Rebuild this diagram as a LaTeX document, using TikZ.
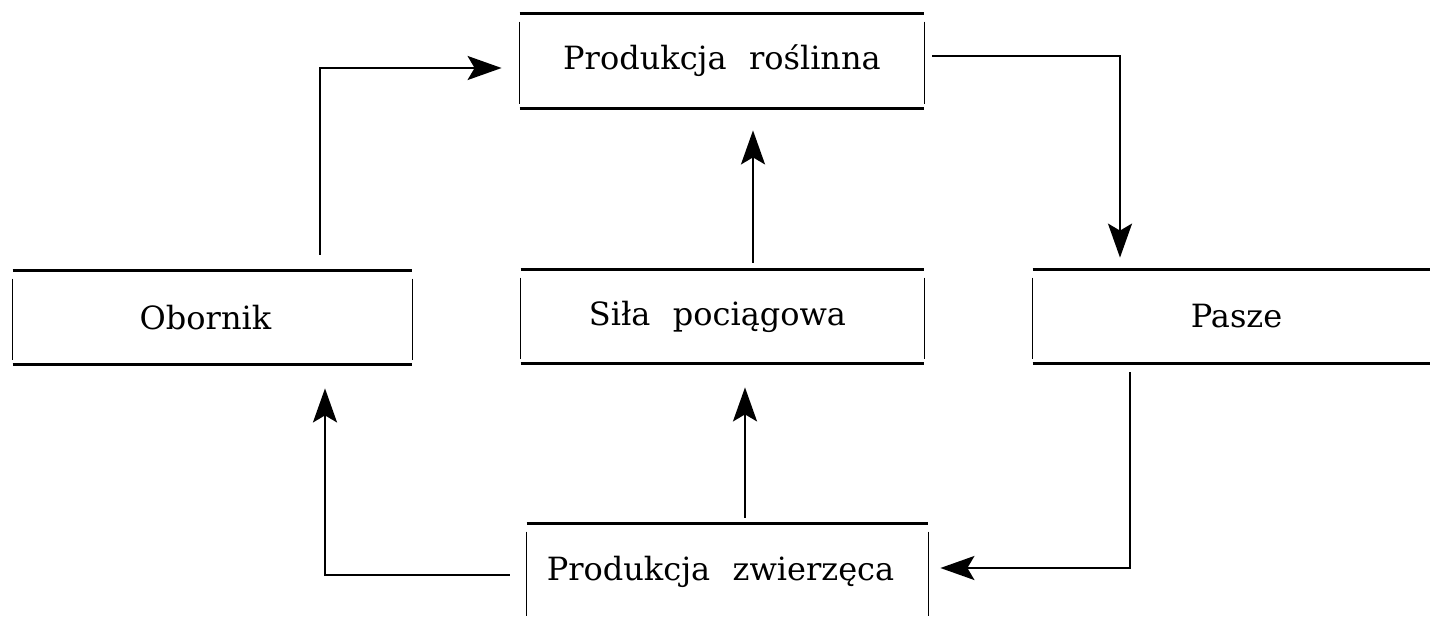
\documentclass[tikz,border=0pt]{standalone}
\usepackage{fontspec}
\setmainfont{DejaVu Serif}
\usetikzlibrary{arrows.meta}
\begin{document}
\begin{tikzpicture}[x=0.5pt,y=-0.5pt,
  box/.style={draw=none, inner sep=0pt, font=\fontsize{16}{19}\selectfont},
  hline/.style={line width=1.4pt},
  vline/.style={line width=0.6pt},
  conn/.style={line width=1.1pt, -{Stealth[length=17pt,width=12pt,inset=3.5pt]}}]
\useasboundingbox (0,0) rectangle (1430,616);
\fill[white] (0,0) rectangle (1430,616);
\node[box, minimum width=202pt, minimum height=47pt] (pr) at (722,61) {\raisebox{-1pt}{Produkcja\hspace{0.7em}roślinna}};
\node[box, minimum width=199.5pt, minimum height=46.5pt] (ob) at (212.5,317.5) {Obornik\hspace*{7pt}};
\node[box, minimum width=201.5pt, minimum height=46.5pt] (sp) at (722.5,316.5) {Siła\hspace{0.7em}pociągowa\hspace*{5pt}};
\node[box, minimum width=203.5pt, minimum height=46.5pt, text width=190pt, align=center] (pa) at (1236.5,316.5) {Pasze\hspace*{5pt}};
\node[box, minimum width=200.5pt, minimum height=48pt] (pz) at (727.5,572) {\raisebox{-2.5pt}{Produkcja\hspace{0.7em}zwierzęca}\hspace*{7pt}};
\foreach \n in {pr,ob,sp,pa,pz} {
  \draw[hline] (\n.north west) -- (\n.north east);
  \draw[hline] (\n.south west) -- (\n.south east);
  \draw[vline] ([yshift=-4pt]\n.north west) -- ([yshift=2pt]\n.south west);
  \draw[vline] ([yshift=-4pt]\n.north east) -- ([yshift=2pt]\n.south east);
}
\coordinate (b1) at (320,68);
\coordinate (b2) at (1120,56);
\coordinate (b3) at (753,0);
\coordinate (b4) at (745,0);
\coordinate (b5) at (1130,568);
\coordinate (b6) at (325,575);
\draw[conn, shorten <=8pt, shorten >=9pt] (b1 |- ob.north) -- (b1) -- (b1 -| pr.west);
\draw[conn, shorten <=4pt, shorten >=6pt] (b2 -| pr.east) -- (b2) -- (b2 |- pa.north);
\draw[conn, shorten <=3.5pt, shorten >=11pt] (b3 |- sp.north) -- (b3 |- pr.south);
\draw[conn, shorten <=3pt, shorten >=12pt] (b4 |- pz.north) -- (b4 |- sp.south);
\draw[conn, shorten <=4.5pt, shorten >=6pt] (b5 |- pa.south) -- (b5) -- (b5 -| pz.east);
\draw[conn, shorten <=8.5pt, shorten >=12pt] (b6 -| pz.west) -- (b6) -- (b6 |- ob.south);
\end{tikzpicture}
\end{document}
